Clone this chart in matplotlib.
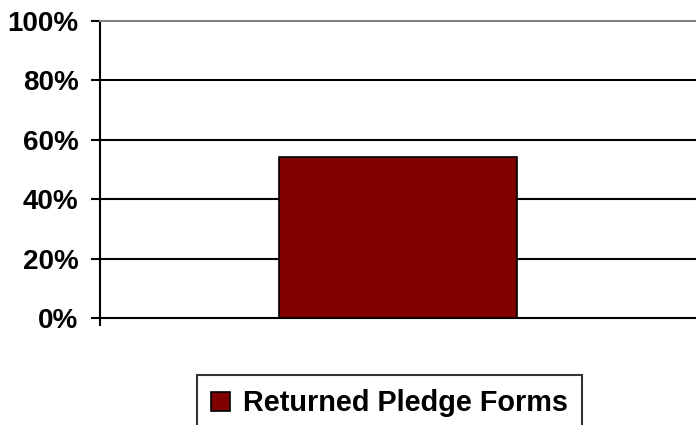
import matplotlib
matplotlib.use("Agg")
import matplotlib.pyplot as plt
from matplotlib.patches import Patch

categories = ["Returned Pledge Forms"]
values = [54.2]
yticks = [0, 20, 40, 60, 80, 100]
ytick_labels = ["0%", "20%", "40%", "60%", "80%", "100%"]

plt.rcParams['font.family'] = ['Liberation Sans', 'DejaVu Sans']

W, H = 696, 425
fig = plt.figure(figsize=(W / 100, H / 100), dpi=100)
ax = fig.add_axes([100 / W, 1 - 318 / H, 596 / W, 297 / H])

bar_color = "#800000"
ax.bar([0], values, width=0.4, color=bar_color, edgecolor="black", linewidth=1.2, zorder=3)

ax.set_xlim(-0.5, 0.5)
ax.set_ylim(0, 100)
ax.set_yticks(yticks)
ax.set_yticklabels(ytick_labels, fontsize=20, fontweight="bold")
for y in yticks[1:-1]:
    ax.axhline(y, color="black", linewidth=1.5, zorder=1)

ax.set_xticks([-0.5])
ax.set_xticklabels([""])
ax.tick_params(axis="x", direction="out", length=6, width=1.5, color="black")
ax.tick_params(axis="y", direction="out", length=6.5, width=1.5, color="black", pad=9)

ax.spines["left"].set_linewidth(1.5)
ax.spines["left"].set_color("black")
ax.spines["bottom"].set_linewidth(1.5)
ax.spines["bottom"].set_color("black")
ax.spines["top"].set_linewidth(1.5)
ax.spines["top"].set_color("#808080")
ax.spines["right"].set_visible(False)

handles = [Patch(facecolor=bar_color, edgecolor="black", linewidth=1.2)]
leg = fig.legend(handles, categories, loc="upper center",
                 bbox_to_anchor=(389.5 / W, 1 - 375 / H),
                 frameon=True, fancybox=False, edgecolor="black",
                 prop={"size": 20.8, "weight": "bold"},
                 handlelength=0.65, handleheight=0.65, handletextpad=0.45,
                 borderpad=0.5, borderaxespad=0)
leg.get_frame().set_linewidth(1.5)

fig.savefig("out.png", dpi=100)
